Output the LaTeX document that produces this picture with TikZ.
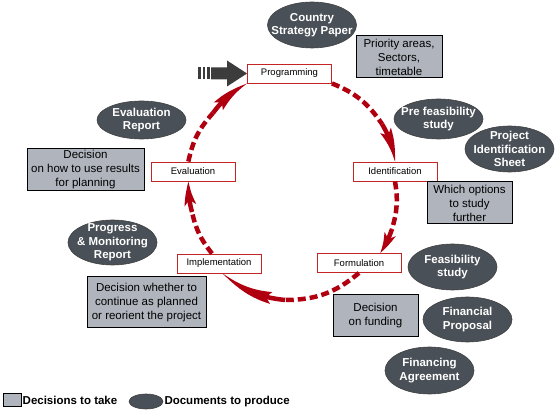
\documentclass[tikz,border=0pt]{standalone}
\usepackage{fontspec}
\setmainfont{Liberation Sans}
\setsansfont{Liberation Sans}
\RequirePackage{xcolor}
\tikzset{every picture/.style={/utils/exec={\sffamily}}}
\usetikzlibrary{arrows.meta}
\usetikzlibrary{bending}
\usetikzlibrary{shapes.geometric}

\definecolor{cyclered}{RGB}{176,0,16}
\definecolor{stagered}{RGB}{196,36,36}
\definecolor{decgray}{RGB}{176,181,189}
\definecolor{docgray}{RGB}{74,80,87}
\definecolor{arrowgray}{RGB}{60,60,60}

\tikzset{
  stage/.style={draw=stagered, fill=white, line width=0.9pt, minimum width=84pt, minimum height=19pt, inner sep=0pt, font=\fontsize{9.5}{11}\selectfont},
  decision/.style={draw=black, fill=decgray, line width=1pt, inner xsep=2pt, inner ysep=0pt, align=center, font=\fontsize{11.5}{14}\selectfont},
  docellipse/.style={ellipse, draw=black!75, fill=docgray, line width=0.6pt, inner sep=0pt, minimum width=89pt},
  doctext/.style={text=white, align=center, inner sep=0pt, font=\bfseries\fontsize{11.5}{13.5}\selectfont},
  doc/.style={docellipse, label={[doctext]center:#1}},
  legendtext/.style={inner sep=1pt, font=\bfseries\fontsize{11.5}{13}\selectfont},
  cyclepart/.style={draw=cyclered, line width=4.5pt, dash pattern=on 8pt off 4pt},
  cycletip/.style={draw=cyclered, line width=4.5pt, -{Stealth[length=#1, width=12pt, inset=6pt, line width=0pt, bend]}}
}

\begin{document}
\begin{tikzpicture}[x=1pt, y=1pt]
  \useasboundingbox (0,0) rectangle (560,415);

  % stages of the cycle
  \node [stage] (prog) at (289.5,341.5) {Programming};
  \node [stage] (ident) at (395,243.5) {Identification};
  \node [stage] (form) at (359,152) {Formulation};
  \node [stage] (impl) at (219,151.5) {Implementation};
  \node [stage] (eval) at (193,243.5) {Evaluation};

  % where the dashes stop and the heads start
  \coordinate (b1) at (382,291);
  \coordinate (b2) at (392,186);
  \coordinate (b3) at (285,115);
  \coordinate (b4) at (192,203);
  \coordinate (b5) at (213,302);

  \foreach \s/\a/\m/\b/\t/\l in {prog.south east/17/b1/11/ident.north/36pt, ident.south/13/b2/7/form.25/23pt, form.south/20/b3/17/impl.-70/62pt, impl.125/13/b4/8/eval.-115/26pt, eval.115/15/b5/12/prog.south west/41pt}
  {
    \draw [cyclepart] (\s) to [bend left=\a] (\m);
    \draw [cycletip=\l] (\m) to [bend left=\b] (\t);
  }

  % entry arrow
  \foreach \x in {198,202.5,207} \fill [arrowgray] (\x,335.5) rectangle +(2.5,12);
  \fill [arrowgray] (211,335.5) -- (227,335.5) -- (227,328.5) -- (prog.west) -- (227,354.5) -- (227,347.5) -- (211,347.5) -- cycle;

  % decisions
  \node [decision, minimum width=86pt, minimum height=42pt] (areas) at (399,358) {Priority areas,\\Sectors,\\timetable};
  \node [decision, minimum width=85pt, minimum height=42pt] (options) at (469.5,212) {Which options\\to study\\further};
  \node [decision, minimum width=117pt, minimum height=42pt] (results) at (85.5,245) {Decision\\on how to use results\\for planning};
  \node [decision, minimum width=119pt, minimum height=51pt] (reorient) at (146.5,112.5) {Decision whether to\\continue as planned\\or reorient the project};
  \node [decision, minimum width=85pt, minimum height=42pt] (funding) at (375.5,99) {Decision\\on funding};

  % documents
  \node [doc={Country\\Strategy Paper}, minimum height=46pt] (csp) at (312,390) {};
  \node [doc={Pre feasibility\\study}, minimum height=40pt] (prefeas) at (438.5,296) {};
  \node [doc={Project\\Identification\\Sheet}, minimum height=46pt] (pis) at (509.5,266) {};
  \node [doc={Evaluation\\Report}, minimum height=38pt] (evrep) at (141.5,295) {};
  \node [doc={Progress\\\& Monitoring\\Report}, minimum height=45pt] (progrep) at (112.5,172.5) {};
  \node [doc={Feasibility\\study}, minimum height=46pt] (feas) at (452.5,148) {};
  \node [doc={Financial\\Proposal}, minimum height=45pt] (finprop) at (467.5,95.5) {};
  \node [doc={Financing\\Agreement}, minimum height=47pt] (finagr) at (429.5,44.5) {};

  % legend
  \node [decision, minimum width=18pt, minimum height=13pt, inner sep=0pt] (legdec) at (12,14.5) {};
  \node [legendtext, anchor=west] (legdectext) at (legdec.east) {Decisions to take};
  \node [docellipse, minimum width=34pt, minimum height=15pt] (legdoc) at (146,13.5) {};
  \node [legendtext, anchor=west] (legdoctext) at (legdoc.east) {Documents to produce};
\end{tikzpicture}
\end{document}
